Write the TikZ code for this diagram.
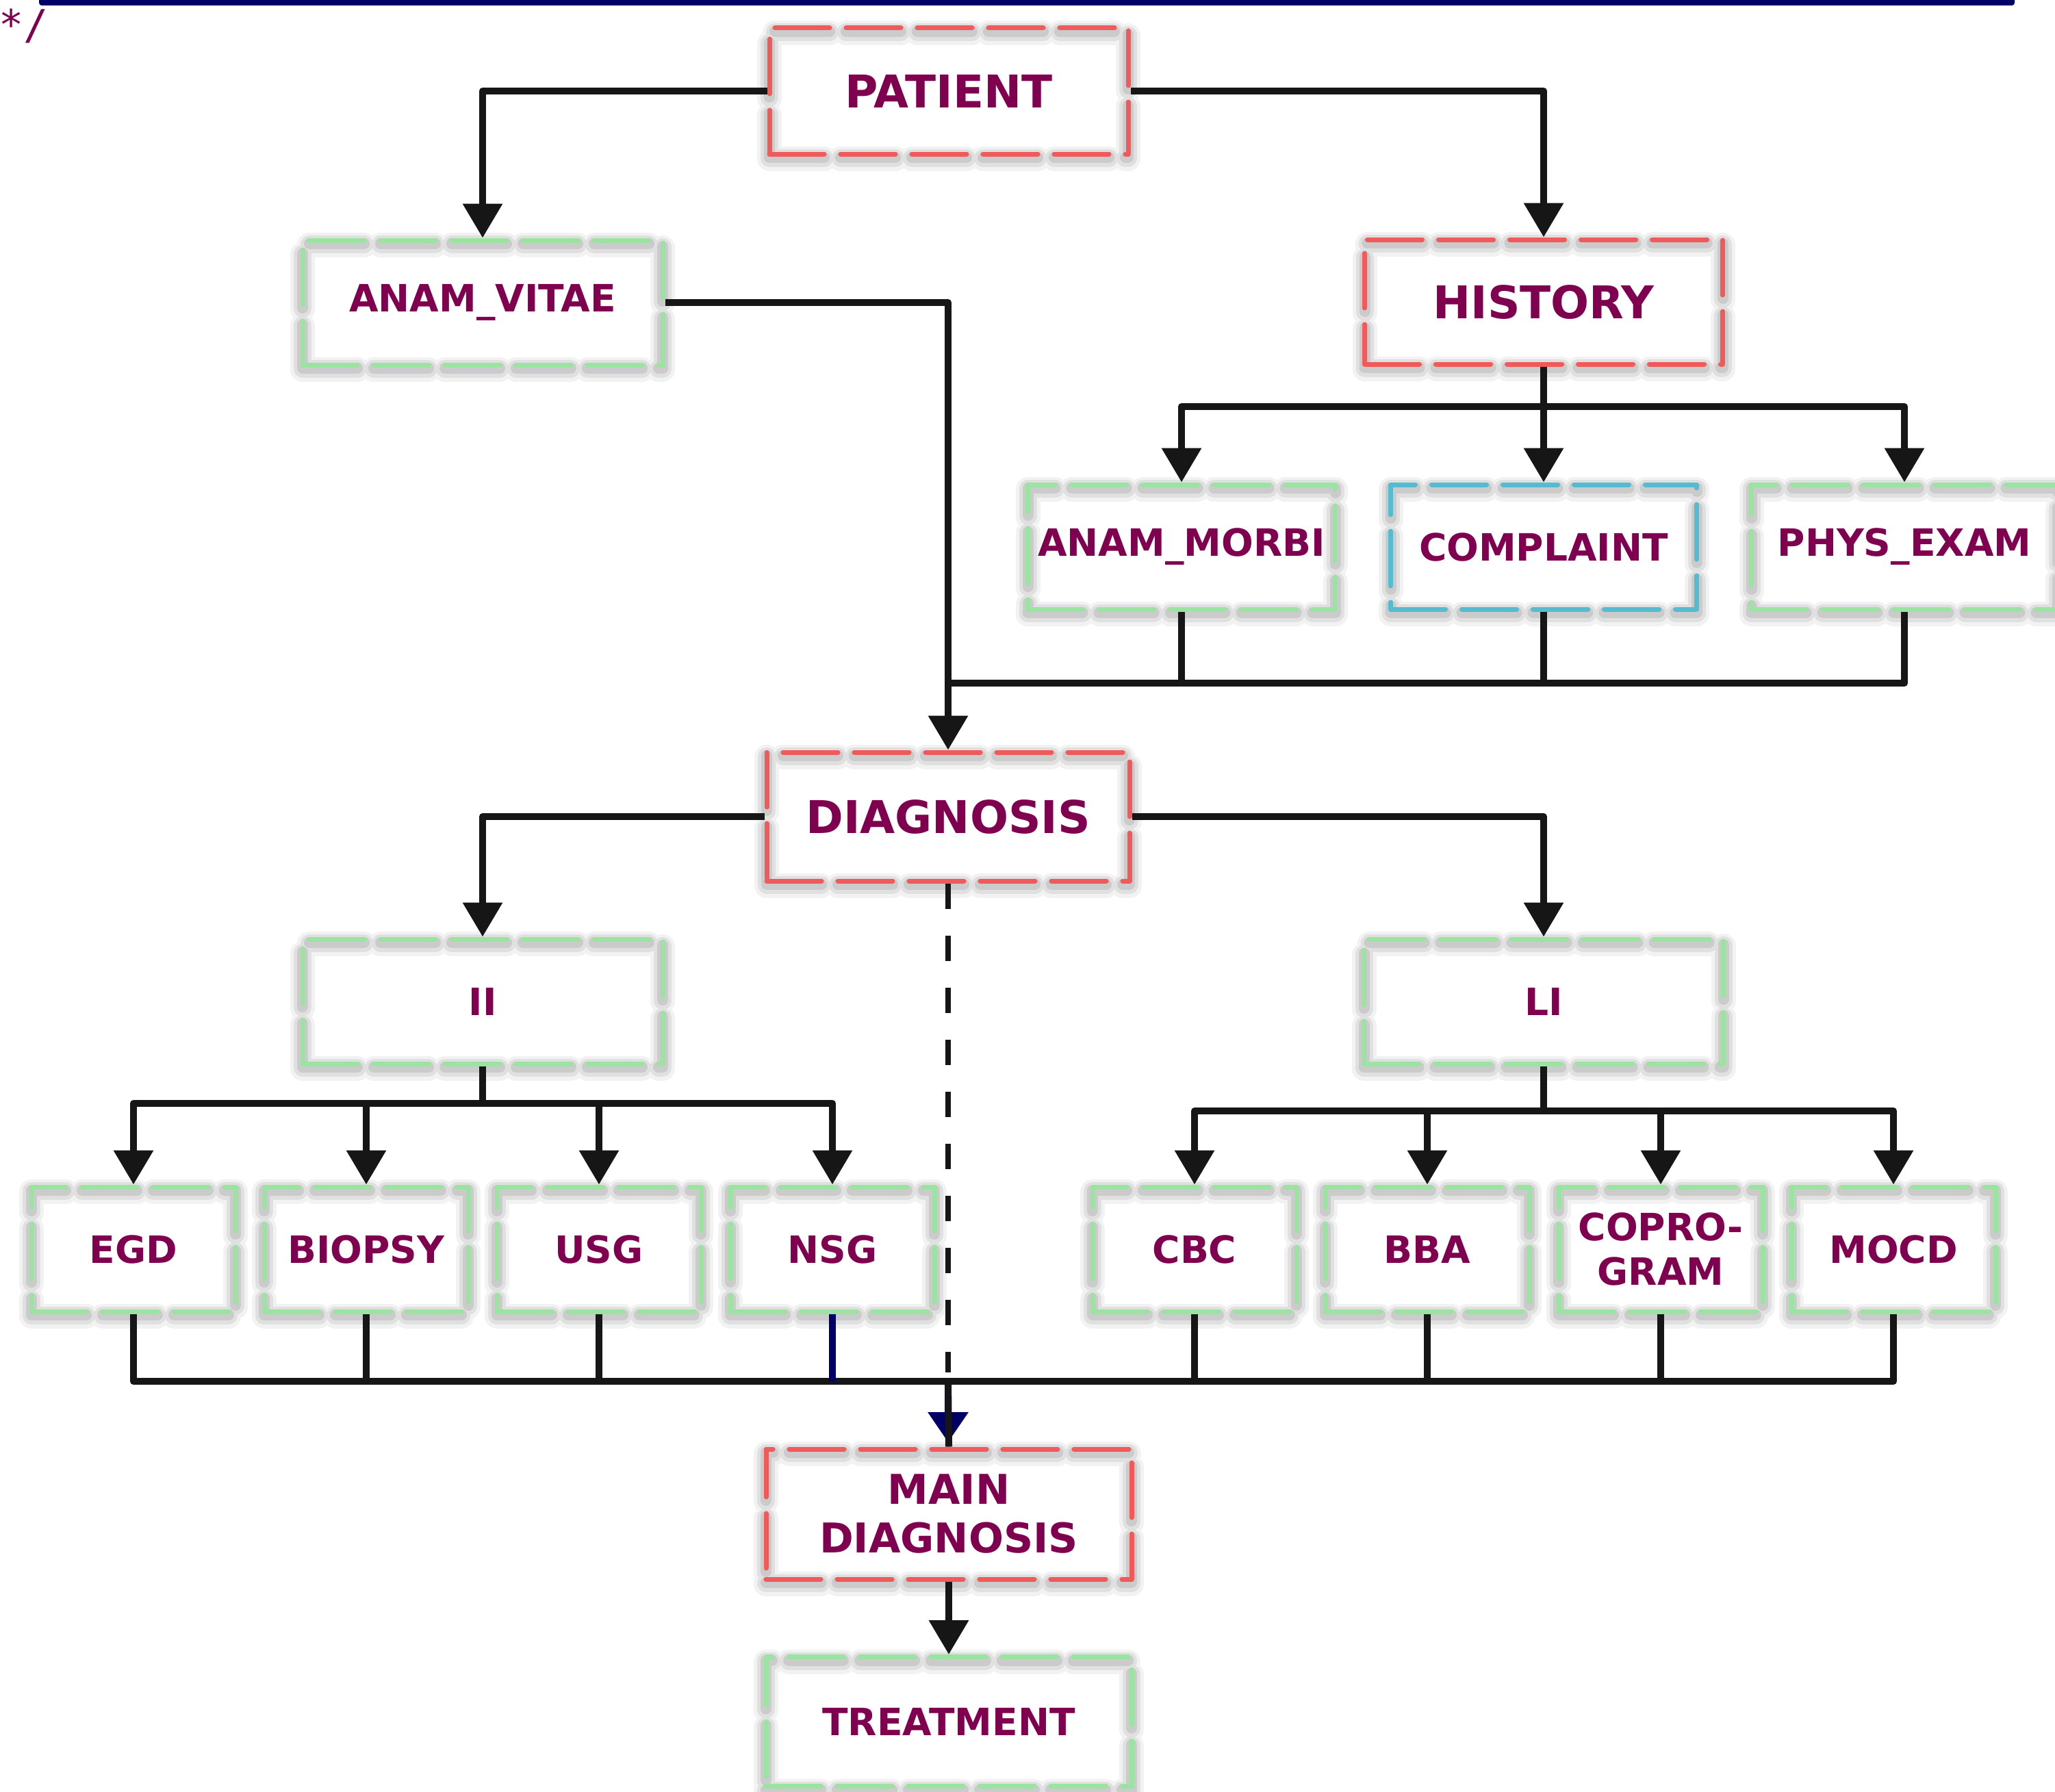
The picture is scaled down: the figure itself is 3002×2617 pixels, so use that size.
\documentclass[tikz,border=0pt]{standalone}
\usepackage{fontspec}
\setmainfont{DejaVu Sans}
\newfontfamily\monof{DejaVu Sans Mono}
\usetikzlibrary{arrows.meta}
\definecolor{txt}{RGB}{128,0,80}
\definecolor{redb}{RGB}{240,90,90}
\definecolor{greenb}{RGB}{155,227,160}
\definecolor{blueb}{RGB}{85,187,208}
\definecolor{navyc}{RGB}{0,0,102}
\definecolor{linec}{RGB}{22,22,22}
\begin{document}
\begin{tikzpicture}[x=1pt,y=-1pt,
  box/.style={rectangle, inner sep=0pt, line width=7pt, line cap=round, line join=round,
    dash pattern=on 80pt off 24pt, text=txt, align=center,
    font=\bfseries\fontsize{55}{65}\selectfont, minimum height=182pt,
    preaction={draw=black, opacity=0.05, line width=36pt, transform canvas={yshift=-7pt}},
    preaction={draw=black, opacity=0.07, line width=26pt, transform canvas={yshift=-6pt}},
    preaction={draw=black, opacity=0.09, line width=16pt, transform canvas={yshift=-5pt}}},
  bigtxt/.style={font=\bfseries\fontsize{66}{74}\selectfont},
  rbox/.style={box, draw=redb},
  gbox/.style={box, draw=greenb},
  bbox/.style={box, draw=blueb},
  conn/.style={draw=linec, line width=10pt, line join=round},
  arr/.style={conn, -{Triangle[length=50pt, width=56pt]}},
  dashconn/.style={draw=linec, line width=8pt, dash pattern=on 37pt off 39pt}]

\useasboundingbox (0,0) rectangle (3002,2617);
\fill[white] (0,0) rectangle (3002,2617);

% top bar and comment mark
\fill[navyc, rounded corners=4pt] (57,-20) rectangle (2943,8);
\node[anchor=base west, text=txt, inner sep=0pt, font=\monof\fontsize{60}{64}\selectfont] (cm) at (-2,58) {*/};

% nodes
\node[rbox, bigtxt, minimum width=524pt, minimum height=184pt] (patient) at (1386,133) {PATIENT};
\node[gbox, minimum width=526pt] (vitae) at (705,442) {ANAM\_VITAE};
\node[rbox, bigtxt, minimum width=523pt] (history) at (2255,441) {HISTORY};
\node[gbox, minimum width=449pt] (morbi) at (1726,799) {ANAM\_MORBI};
\node[bbox, minimum width=447pt] (complaint) at (2255,799) {COMPLAINT};
\node[gbox, minimum width=447pt] (phys) at (2782,799) {PHYS\_EXAM};
\node[rbox, bigtxt, minimum width=530pt, minimum height=188pt] (diag) at (1385,1193) {DIAGNOSIS};
\node[gbox, minimum width=526pt] (ii) at (705,1463) {II};
\node[gbox, minimum width=525pt] (li) at (2255,1463) {LI};

\node[gbox, minimum width=298pt] (egd) at (195,1825) {EGD};
\node[gbox, minimum width=298pt] (biopsy) at (535,1825) {BIOPSY};
\node[gbox, minimum width=298pt] (usg) at (875,1825) {USG};
\node[gbox, minimum width=298pt] (nsg) at (1216,1825) {NSG};
\node[gbox, minimum width=298pt] (cbc) at (1745,1825) {CBC};
\node[gbox, minimum width=298pt] (bba) at (2085,1825) {BBA};
\node[gbox, minimum width=298pt] (copro) at (2426,1825) {COPRO-\\GRAM};
\node[gbox, minimum width=298pt] (mocd) at (2766,1825) {MOCD};

\node[rbox, minimum width=534pt, minimum height=190pt, font=\bfseries\fontsize{60}{71}\selectfont] (main) at (1386,2212) {MAIN\\DIAGNOSIS};
\node[gbox, minimum width=534pt, minimum height=189pt] (treat) at (1386,2515) {TREATMENT};

% connectors
\draw[arr] (patient.west) -| (vitae.north);
\draw[arr] (patient.east) -| (history.north);
\draw[arr] (vitae.east) -| (diag.north);

\coordinate (hj) at (2255,594);
\draw[conn] (history.south) -- (hj);
\draw[arr] (hj) -| (morbi.north);
\draw[arr] (hj) -- (complaint.north);
\draw[arr] (hj) -| (phys.north);

\coordinate (dj) at (1385,998);
\draw[conn] (morbi.south) -- (morbi.south |- dj);
\draw[conn] (complaint.south) -- (complaint.south |- dj);
\draw[conn] (phys.south) |- (dj);

\draw[arr] (diag.west) -| (ii.north);
\draw[arr] (diag.east) -| (li.north);

\coordinate (ij) at (705,1612);
\draw[conn] (ii.south) -- (ij);
\draw[arr] (ij) -| (egd.north);
\draw[arr] (ij) -| (biopsy.north);
\draw[arr] (ij) -| (usg.north);
\draw[arr] (ij) -| (nsg.north);

\coordinate (lj) at (2255,1623);
\draw[conn] (li.south) -- (lj);
\draw[arr] (lj) -| (cbc.north);
\draw[arr] (lj) -| (bba.north);
\draw[arr] (lj) -| (copro.north);
\draw[arr] (lj) -| (mocd.north);

\coordinate (bj) at (1385,2018);
\coordinate (dend) at (1385,2005);
\draw[dashconn] (diag.south) -- (dend);
\draw[conn] (egd.south) |- (bj);
\draw[conn] (mocd.south) |- (bj);
\draw[conn] (biopsy.south) -- (biopsy.south |- bj);
\draw[conn] (usg.south) -- (usg.south |- bj);
\draw[conn, draw=navyc] (nsg.south) -- (nsg.south |- bj);
\draw[conn] (cbc.south) -- (cbc.south |- bj);
\draw[conn] (bba.south) -- (bba.south |- bj);
\draw[conn] (copro.south) -- (copro.south |- bj);

\coordinate (ntip) at (1385,2107);
\draw[conn, draw=navyc, -{Triangle[length=44pt, width=57pt]}] (bj) -- (ntip);
\draw[conn] (bj) -- (main.north);

\draw[arr] (main.south) -- (treat.north);
\end{tikzpicture}
\end{document}
